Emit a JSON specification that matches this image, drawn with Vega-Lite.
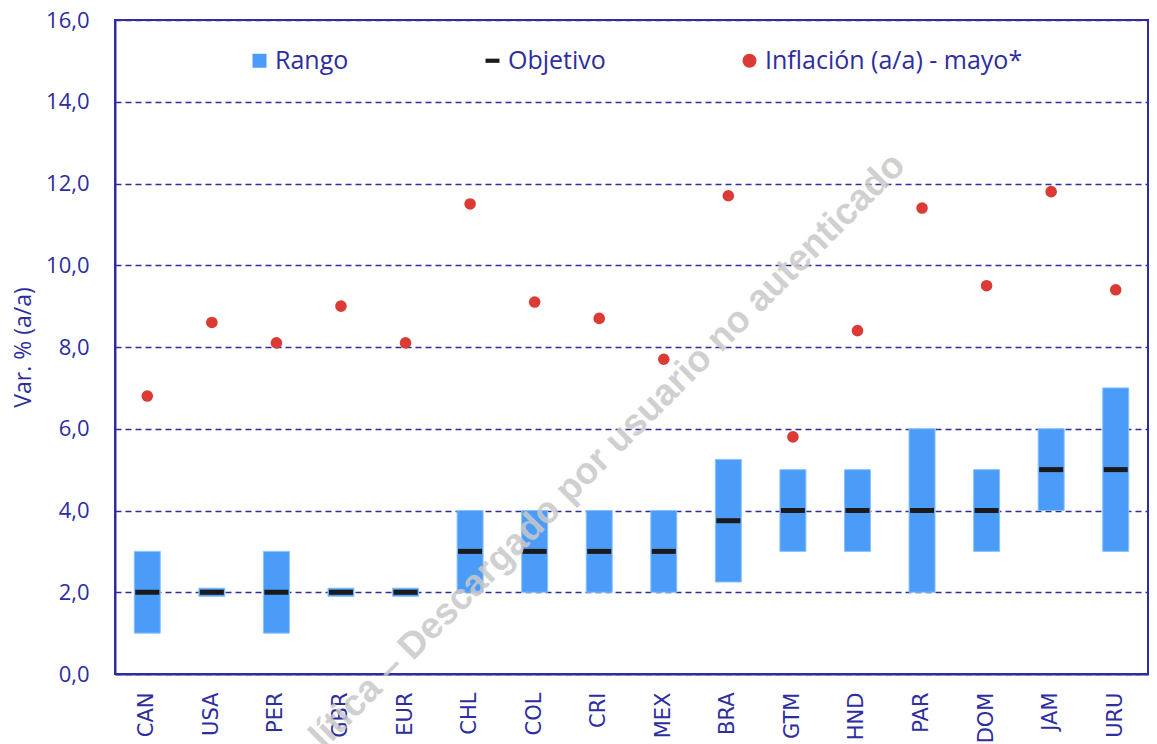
{
  "$schema": "https://vega.github.io/schema/vega-lite/v6.json",
  "width": 1033,
  "height": 654,
  "autosize": {"type": "none"},
  "padding": {"left": 115, "top": 20, "right": 9, "bottom": 70},
  "background": "white",
  "config": {
    "view": {"stroke": "#2d2d9f", "strokeWidth": 2},
    "font": "Open Sans"
  },
  "datasets": {
    "paises": [
      {"pais": "CAN", "min": 1, "max": 3, "obj": 2, "infl": 6.8},
      {"pais": "USA", "min": 1.9, "max": 2.1, "obj": 2, "infl": 8.6},
      {"pais": "PER", "min": 1, "max": 3, "obj": 2, "infl": 8.1},
      {"pais": "GBR", "min": 1.9, "max": 2.1, "obj": 2, "infl": 9.0},
      {"pais": "EUR", "min": 1.9, "max": 2.1, "obj": 2, "infl": 8.1},
      {"pais": "CHL", "min": 2, "max": 4, "obj": 3, "infl": 11.5},
      {"pais": "COL", "min": 2, "max": 4, "obj": 3, "infl": 9.1},
      {"pais": "CRI", "min": 2, "max": 4, "obj": 3, "infl": 8.7},
      {"pais": "MEX", "min": 2, "max": 4, "obj": 3, "infl": 7.7},
      {"pais": "BRA", "min": 2.25, "max": 5.25, "obj": 3.75, "infl": 11.7},
      {"pais": "GTM", "min": 3, "max": 5, "obj": 4, "infl": 5.8},
      {"pais": "HND", "min": 3, "max": 5, "obj": 4, "infl": 8.4},
      {"pais": "PAR", "min": 2, "max": 6, "obj": 4, "infl": 11.4},
      {"pais": "DOM", "min": 3, "max": 5, "obj": 4, "infl": 9.5},
      {"pais": "JAM", "min": 4, "max": 6, "obj": 5, "infl": 11.8},
      {"pais": "URU", "min": 3, "max": 7, "obj": 5, "infl": 9.4}
    ],
    "marca": [
      {"texto": "lítica – Descargado por usuario no autenticado", "pais": "CRI", "v": 5.25}
    ]
  },
  "data": {"name": "paises"},
  "encoding": {
    "x": {
      "field": "pais",
      "type": "nominal",
      "sort": null,
      "scale": {
        "domain": ["CAN", "USA", "PER", "GBR", "EUR", "CHL", "COL", "CRI", "MEX", "BRA", "GTM", "HND", "PAR", "DOM", "JAM", "URU"],
        "paddingInner": 0,
        "paddingOuter": 0
      },
      "axis": {
        "title": null,
        "labelAngle": -90,
        "labelFont": "DejaVu Sans",
        "labelFontSize": 21,
        "labelColor": "#2d2d9f",
        "labelPadding": 18,
        "ticks": false,
        "tickSize": 0,
        "domainColor": "#2d2d9f",
        "domainWidth": 2,
        "grid": false
      }
    }
  },
  "layer": [
    {
      "mark": {"type": "bar", "size": 26, "color": "#4a9cf8", "stroke": "#8cc2fb", "strokeWidth": 1},
      "encoding": {
        "y": {
          "field": "min",
          "type": "quantitative",
          "scale": {"domain": [0, 16], "nice": false},
          "axis": {
            "values": [0, 2, 4, 6, 8, 10, 12, 14, 16],
            "labelExpr": "replace(format(datum.value, '.1f'), '.', ',')",
            "grid": true,
            "gridColor": "#2d2d9f",
            "gridDash": [6, 4],
            "gridWidth": 1.5,
            "domainColor": "#2d2d9f",
            "domainWidth": 2,
            "ticks": false,
            "tickSize": 0,
            "labelPadding": 26,
            "labelFontSize": 22,
            "labelColor": "#2d2d9f",
            "title": "Var. % (a/a)",
            "titleFontSize": 23,
            "titleFontWeight": "normal",
            "titleColor": "#2d2d9f",
            "titlePadding": 10
          }
        },
        "y2": {"field": "max"},
        "color": {
          "datum": "Rango",
          "type": "nominal",
          "scale": {
            "domain": ["Rango", "Objetivo", "Inflación (a/a) - mayo*"],
            "range": ["#4a9cf8", "#1a1a1a", "#dc3a34"]
          },
          "legend": {
            "title": null,
            "orient": "none",
            "legendX": 132,
            "legendY": 28,
            "direction": "horizontal",
            "columnPadding": 131,
            "padding": 0,
            "labelFont": "Open Sans",
            "labelFontSize": 25,
            "labelColor": "#2d2d9f",
            "labelOffset": 3,
            "labelLimit": 400,
            "symbolSize": 196,
            "symbolStrokeWidth": 0,
            "encode": {
              "symbols": {
                "fill": {"signal": "datum.value === 'Rango' ? '#4a9cf8' : datum.value === 'Objetivo' ? '#1a1a1a' : '#dc3a34'"},
                "size": {"signal": "datum.value === 'Inflación (a/a) - mayo*' ? 121 : 196"},
                "stroke": {"value": "transparent"},
                "strokeWidth": {"value": 0},
                "opacity": {"value": 1}
              }
            }
          }
        }
      }
    },
    {
      "mark": {"type": "tick", "size": 24, "thickness": 5, "orient": "horizontal", "opacity": 1},
      "encoding": {
        "y": {"field": "obj", "type": "quantitative"},
        "color": {"datum": "Objetivo", "type": "nominal"}
      }
    },
    {
      "mark": {"type": "point", "filled": true, "size": 135, "opacity": 1},
      "encoding": {
        "y": {"field": "infl", "type": "quantitative"},
        "color": {"datum": "Inflación (a/a) - mayo*", "type": "nominal"},
        "shape": {
          "datum": "Inflación (a/a) - mayo*",
          "type": "nominal",
          "scale": {
            "domain": ["Rango", "Objetivo", "Inflación (a/a) - mayo*"],
            "range": ["square", "M-1,-0.3H1V0.3H-1Z", "circle"]
          },
          "legend": {
            "title": null,
            "orient": "none",
            "legendX": 132,
            "legendY": 28,
            "direction": "horizontal",
            "columnPadding": 131,
            "padding": 0,
            "labelFont": "Open Sans",
            "labelFontSize": 25,
            "labelColor": "#2d2d9f",
            "labelOffset": 3,
            "labelLimit": 400,
            "symbolSize": 196,
            "symbolStrokeWidth": 0
          }
        }
      }
    },
    {
      "data": {"name": "marca"},
      "mark": {
        "type": "text",
        "angle": -45,
        "font": "Liberation Sans",
        "fontWeight": "bold",
        "fontSize": 37,
        "color": "#c8c8c8",
        "opacity": 0.85,
        "align": "center",
        "baseline": "middle",
        "dx": 12
      },
      "encoding": {
        "y": {"field": "v", "type": "quantitative"},
        "text": {"field": "texto"}
      }
    }
  ]
}
